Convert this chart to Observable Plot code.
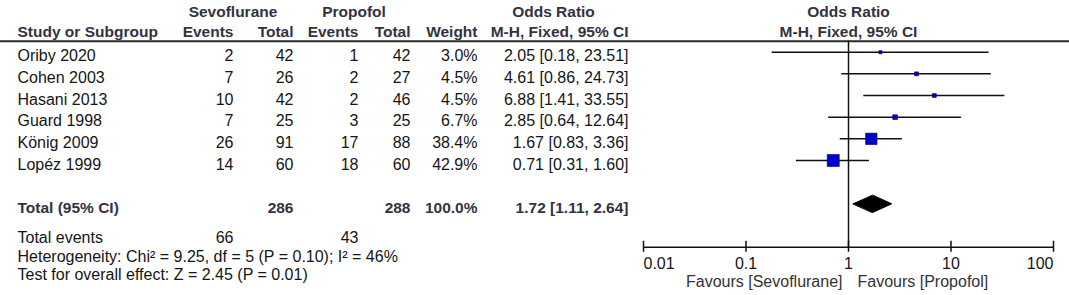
<!DOCTYPE html>
<html><head><meta charset="utf-8">
<script src="https://cdn.jsdelivr.net/npm/d3@7"></script>
<script src="https://cdn.jsdelivr.net/npm/@observablehq/plot@0.6"></script>
<style>body{margin:0;background:#fff}</style>
</head><body><div id="chart"></div>
<script>
// ---- data ----
const studies = ["Oriby 2020","Cohen 2003","Hasani 2013","Guard 1998","König 2009","Lopéz 1999"];
const sevoEvents = [2,7,10,7,26,14];
const sevoTotal = [42,26,42,25,91,60];
const propEvents = [1,2,2,3,17,18];
const propTotal = [42,27,46,25,88,60];
const weights = [3.0,4.5,4.5,6.7,38.4,42.9];
const oddsRatio = [2.05,4.61,6.88,2.85,1.67,0.71];
const ciLower = [0.18,0.86,1.41,0.64,0.83,0.31];
const ciUpper = [23.51,24.73,33.55,12.64,3.36,1.60];
const totalLabel = "Total (95% CI)";
const totalSevo = 286, totalProp = 288, totalWeight = 100.0;
const pooledOR = 1.72, pooledLower = 1.11, pooledUpper = 2.64;
const totalEventsSevo = 66, totalEventsProp = 43;
const heterogeneityText = "Heterogeneity: Chi² = 9.25, df = 5 (P = 0.10); I² = 46%";
const overallEffectText = "Test for overall effect: Z = 2.45 (P = 0.01)";
const axisTicks = [0.01,0.1,1,10,100];
const favoursLeft = "Favours [Sevoflurane]";
const favoursRight = "Favours [Propofol]";

// ---- build table ----
const f2 = v => v.toFixed(2);
const rows = studies.map((s,i)=>({
  study:s, row:i, se:sevoEvents[i], st:sevoTotal[i], pe:propEvents[i], pt:propTotal[i],
  w:weights[i], wt:weights[i].toFixed(1)+"%", or:oddsRatio[i], lo:ciLower[i], hi:ciUpper[i],
  ort:`${f2(oddsRatio[i])} [${f2(ciLower[i])}, ${f2(ciUpper[i])}]`
}));
const totalRow = studies.length + 1;       // one blank row before total
const headerRow1 = -2.02, headerRow2 = -1.1, headerLine = -0.51;
const footerRows = [8.40, 9.25, 10.08];
const axisRow = 9.007, tickLabelRow = 9.575, favRow = 10.43;

const FONT = "'Liberation Sans', Arial, sans-serif";
const FS = 16, FSB = 15.5;
const BODY = "#151515", HEAD = "#33333f";

const txt = (data, o) => Plot.text(data, {fontSize: FS, fill: BODY, dy: 4, ...o});
const colR = (key, dx) => txt(rows, {y:"row", text:key, frameAnchor:"left", dx, textAnchor:"end"});
const head = (label, row, dx, anchor) => txt([label], {y: row, text: d=>d, frameAnchor:"left", dx, textAnchor:anchor, fontWeight:"bold", fontSize:FSB, fill: HEAD});
const bold = (label, dx, anchor) => txt([label], {y: totalRow, text: d=>String(d), frameAnchor:"left", dx, textAnchor:anchor, fontWeight:"bold", fontSize:FSB, fill: HEAD});

const diamond = [
  {x:pooledLower, y:totalRow},
  {x:pooledOR, y:totalRow-0.40},
  {x:pooledUpper, y:totalRow},
  {x:pooledOR, y:totalRow+0.40}
];

const chart = Plot.plot({
  width:1069, height:295, margin:0,
  style:{fontFamily:FONT, background:"white", overflow:"visible"},
  x:{type:"log", domain:[0.01,100], range:[643,1053], axis:null},
  y:{domain:[0,7], range:[51.7,203.3], axis:null},
  r:{domain:[0, d3.max(weights)], range:[0,6.8]},
  marks:[
    // headers
    head("Sevoflurane", headerRow1, 232.5, "middle"),
    head("Propofol", headerRow1, 353.5, "middle"),
    head("Odds Ratio", headerRow1, 553, "middle"),
    head("Study or Subgroup", headerRow2, 17, "start"),
    head("Events", headerRow2, 233, "end"),
    head("Total", headerRow2, 293, "end"),
    head("Events", headerRow2, 358, "end"),
    head("Total", headerRow2, 410, "end"),
    head("Weight", headerRow2, 477, "end"),
    head("M-H, Fixed, 95% CI", headerRow2, 628, "end"),
    txt(["Odds Ratio"], {x:1, y:headerRow1, text:d=>d, fontWeight:"bold", fontSize:FSB, fill:HEAD}),
    txt(["M-H, Fixed, 95% CI"], {x:1, y:headerRow2, text:d=>d, fontWeight:"bold", fontSize:FSB, fill:HEAD}),
    Plot.ruleY([headerLine], {stroke:"#2a2a2a", strokeWidth:2}),

    // study rows
    txt(rows, {y:"row", text:"study", frameAnchor:"left", dx:17, textAnchor:"start"}),
    colR("se", 233), colR("st", 293), colR("pe", 358), colR("pt", 410), colR("wt", 477), colR("ort", 628),

    // total row
    bold(totalLabel, 17, "start"),
    bold(totalSevo, 293, "end"),
    bold(totalProp, 410, "end"),
    bold(totalWeight.toFixed(1)+"%", 477, "end"),
    bold(`${f2(pooledOR)} [${f2(pooledLower)}, ${f2(pooledUpper)}]`, 628, "end"),

    // footer
    txt(["Total events"], {y:footerRows[0], text:d=>d, frameAnchor:"left", dx:17, textAnchor:"start"}),
    txt([totalEventsSevo], {y:footerRows[0], text:d=>String(d), frameAnchor:"left", dx:233, textAnchor:"end"}),
    txt([totalEventsProp], {y:footerRows[0], text:d=>String(d), frameAnchor:"left", dx:358, textAnchor:"end"}),
    txt([heterogeneityText], {y:footerRows[1], text:d=>d, frameAnchor:"left", dx:17, textAnchor:"start"}),
    txt([overallEffectText], {y:footerRows[2], text:d=>d, frameAnchor:"left", dx:17, textAnchor:"start"}),

    // forest plot
    Plot.ruleX([1], {y1:headerLine, y2:axisRow, stroke:"#111", strokeWidth:1.5}),
    Plot.ruleY(rows, {y:"row", x1:"lo", x2:"hi", stroke:"#111", strokeWidth:1.5}),
    Plot.dot(rows, {x:"or", y:"row", r:"w", symbol:"square", fill:"#0000cc", stroke:"#00006e", strokeWidth:0.6}),
    Plot.line(diamond, {x:"x", y:"y", curve:"linear-closed", fill:"#000", stroke:"#000", strokeWidth:1}),

    // axis
    Plot.ruleY([axisRow], {x1:axisTicks[0], x2:axisTicks[axisTicks.length-1], stroke:"#111", strokeWidth:1.5}),
    Plot.ruleX(axisTicks, {x:d=>d, y1:axisRow-0.28, y2:axisRow+0.23, stroke:"#111", strokeWidth:1.5}),
    txt(axisTicks.slice(0,1), {x:d=>d, y:tickLabelRow, text:d=>String(d), textAnchor:"start"}),
    txt(axisTicks.slice(1,-1), {x:d=>d, y:tickLabelRow, text:d=>String(d), textAnchor:"middle"}),
    txt(axisTicks.slice(-1), {x:d=>d, y:tickLabelRow, text:d=>String(d), textAnchor:"end"}),
    txt([favoursLeft], {x:1, y:favRow, text:d=>d, dx:-6, textAnchor:"end", fill:"#333"}),
    txt([favoursRight], {x:1, y:favRow, text:d=>d, dx:9, textAnchor:"start", fill:"#333"})
  ]
});
document.getElementById("chart").appendChild(chart);
</script>
</body></html>
